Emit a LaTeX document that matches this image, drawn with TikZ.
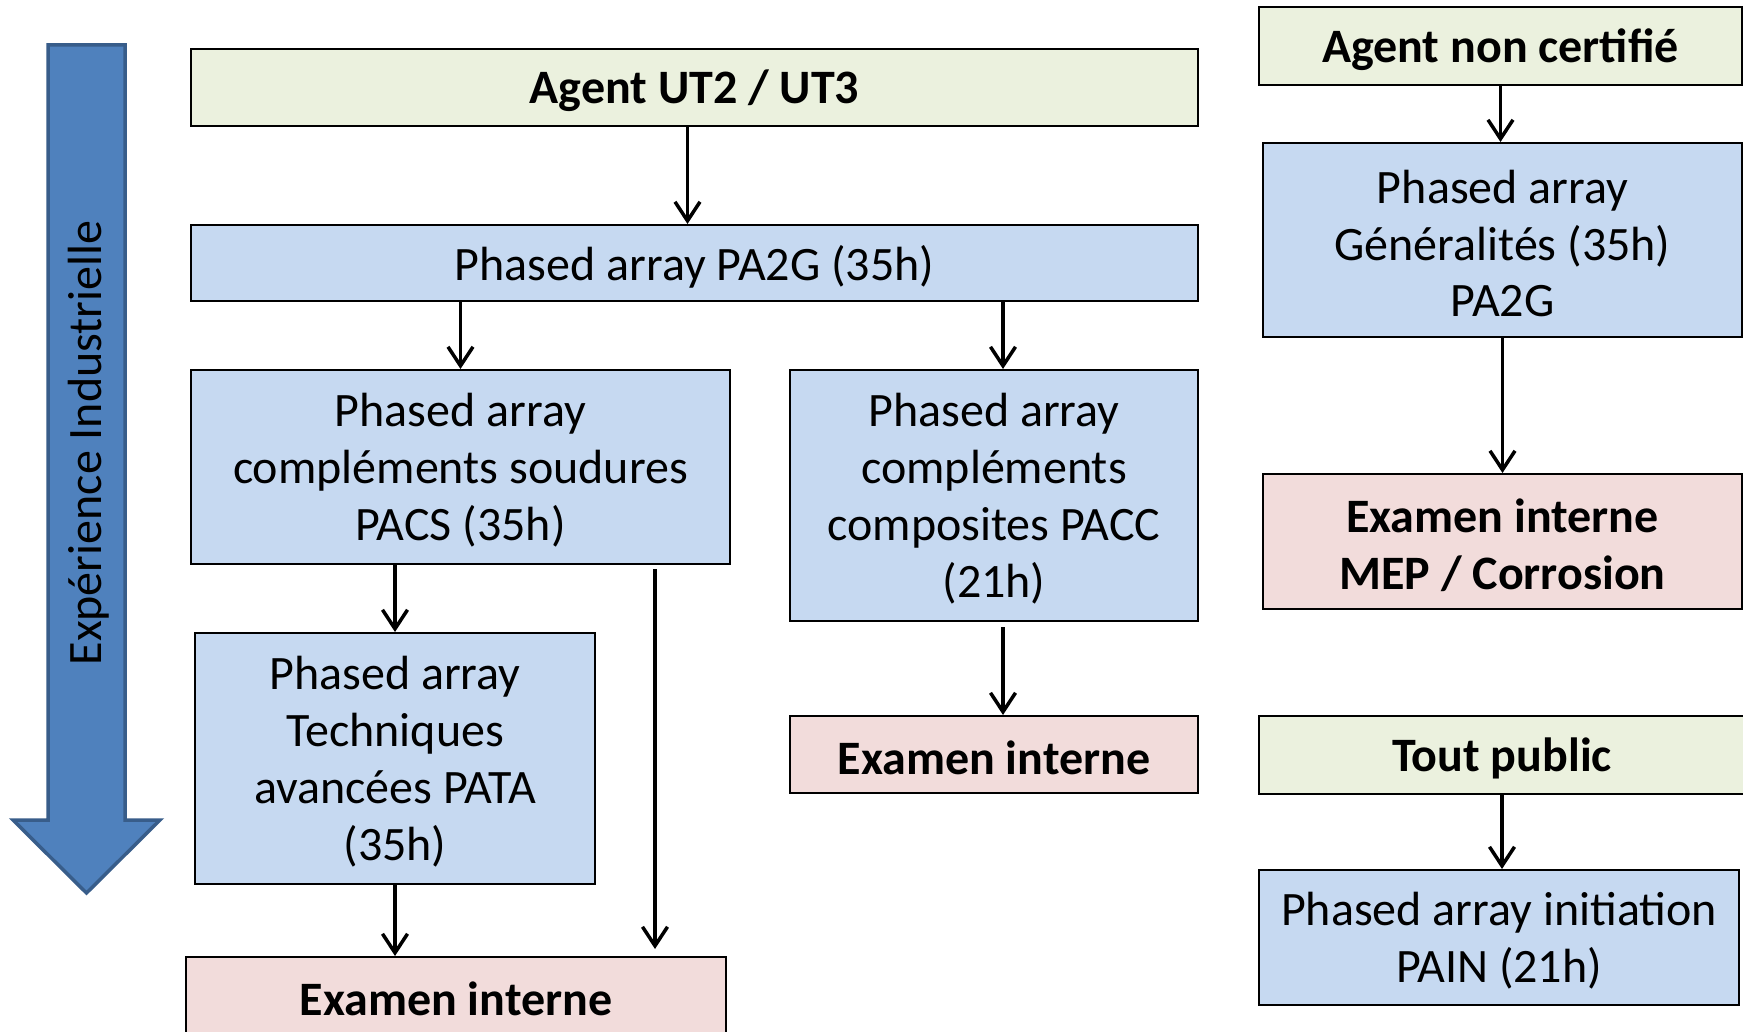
\documentclass[tikz,border=0pt]{standalone}
\usepackage{fontspec}
\setmainfont{Carlito}
\usetikzlibrary{arrows.meta}
\definecolor{gfill}{HTML}{EBF1DE}
\definecolor{bfill}{HTML}{C6D9F1}
\definecolor{pfill}{HTML}{F2DCDB}
\definecolor{afill}{HTML}{4F81BD}
\definecolor{aline}{HTML}{385D8A}
\tikzset{
  box/.style={draw=black, line width=2pt, rectangle, inner sep=0pt},
  gbox/.style={box, fill=gfill},
  bbox/.style={box, fill=bfill},
  pbox/.style={box, fill=pfill},
  txt/.style={inner sep=0pt, align=center, font=\fontsize{48}{57}\selectfont},
  btxt/.style={txt, font=\fontsize{48}{57}\selectfont\bfseries},
  arr/.style={line width=3.5pt, -{Straight Barb[length=19pt,width=25pt,line width=3.5pt]}},
}
\begin{document}
\begin{tikzpicture}[x=1pt,y=-1pt]
\useasboundingbox (0,0) rectangle (1743,1032);
\fill[white] (0,0) rectangle (1743,1032);
% big arrow
\draw[aline, line width=3.5pt, fill=afill, line join=miter]
  (48,45) -- (125,45) -- (125,820) -- (160,820) -- (86.5,893) -- (13,820) -- (48,820) -- cycle;
\node[rotate=90, txt] (exp) at (89,443) {Expérience Industrielle};
% left column
\node[gbox, minimum width=1007pt, minimum height=77pt] (agent) at (694.5,87.5) {};
\node[bbox, minimum width=1007pt, minimum height=76pt] (pa2g) at (694.5,263) {};
\node[bbox, minimum width=539pt, minimum height=194pt] (pacs) at (460.5,467) {};
\node[bbox, minimum width=408pt, minimum height=251pt] (pacc) at (994,495.5) {};
\node[bbox, minimum width=400pt, minimum height=251pt] (pata) at (395,758.5) {};
\node[pbox, minimum width=540pt, minimum height=77pt] (exam1) at (456,995.5) {};
\node[pbox, minimum width=408pt, minimum height=77pt] (exam2) at (994,754.5) {};
% right column
\node[gbox, minimum width=483pt, minimum height=78pt] (anc) at (1500.5,46) {};
\node[bbox, minimum width=479pt, minimum height=194pt] (gen) at (1502.5,240) {};
\node[pbox, minimum width=479pt, minimum height=135pt] (mep) at (1502.5,541.5) {};
\node[gbox, minimum width=486pt, minimum height=78pt] (tout) at (1502,755) {};
\node[bbox, minimum width=480pt, minimum height=135pt] (pain) at (1499,937.5) {};
% texts
\node[btxt] (agent-t) at ([yshift=-3.5pt]agent.center) {Agent UT2 / UT3};
\node[txt] (pa2g-t) at ([yshift=-3.5pt]pa2g.center) {Phased array PA2G (35h)};
\node[txt] (pacs-t) at ([yshift=-3.5pt]pacs.center) {Phased array\\compléments soudures\\PACS (35h)};
\node[txt] (pacc-t) at ([yshift=-3.5pt]pacc.center) {Phased array\\compléments\\composites PACC\\(21h)};
\node[txt] (pata-t) at ([yshift=-3.5pt]pata.center) {Phased array\\Techniques\\avancées PATA\\(35h)};
\node[btxt] (exam1-t) at ([yshift=-3.5pt]exam1.center) {Examen interne};
\node[btxt] (exam2-t) at ([yshift=-3.5pt]exam2.center) {Examen interne};
\node[btxt] (anc-t) at ([yshift=-3.5pt]anc.center) {Agent non certifié};
\node[txt] (gen-t) at ([yshift=-3.5pt]gen.center) {Phased array\\Généralités (35h)\\PA2G};
\node[btxt] (mep-t) at ([yshift=-3.5pt]mep.center) {Examen interne\\MEP / Corrosion};
\node[btxt] (tout-t) at ([yshift=-3.5pt]tout.center) {Tout public};
\node[txt] (pain-t) at ([yshift=-3.5pt]pain.center) {Phased array initiation\\PAIN (21h)};
% connectors
\coordinate (lx) at (655,0);
\coordinate (ccx) at ([xshift=9pt]pacc.north);
\draw[arr] ([xshift=-7pt]agent.south) -- ([xshift=-7pt]pa2g.north);
\draw[arr] (pa2g.south -| pacs.north) -- (pacs.north);
\draw[arr] (pa2g.south -| ccx) -- (ccx);
\draw[arr] (pacs.south -| pata.north) -- (pata.north);
\draw[arr] ([yshift=-4pt]pacs.south -| lx) -- ([yshift=7pt]exam1.north -| lx);
\draw[arr] (pata.south) -- (exam1.north -| pata.south);
\draw[arr] ([yshift=-5pt]pacc.south -| ccx) -- (exam2.north -| ccx);
\draw[arr] (anc.south) -- (gen.north -| anc.south);
\draw[arr] (gen.south) -- (mep.north);
\draw[arr] (tout.south) -- (pain.north -| tout.south);
\end{tikzpicture}
\end{document}
